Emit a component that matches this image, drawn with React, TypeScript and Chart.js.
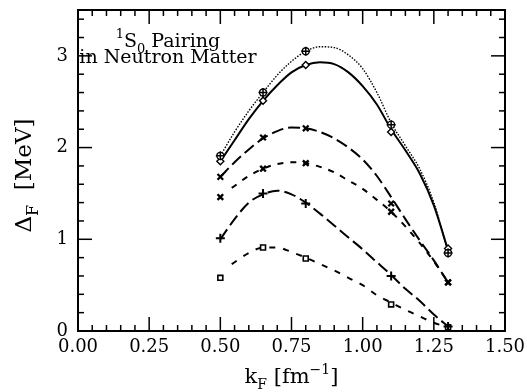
import React, { useEffect, useRef } from "react";
import { Chart, registerables } from "chart.js";
Chart.register(...registerables);

// Marker positions (k_F in fm^-1) and gap values (MeV)
const markerK = [0.5, 0.65, 0.8, 1.1, 1.3];
const s1Marks = [1.91, 2.6, 3.05, 2.25, 0.85];
const s2Marks = [1.85, 2.51, 2.9, 2.17, 0.9];
const s3Marks = [1.68, 2.11, 2.21, 1.39, 0.53];
const s4Marks = [1.46, 1.77, 1.83, 1.3, 0.53];
const s5Marks = [1.01, 1.5, 1.39, 0.6, 0.05];
const s6Marks = [0.58, 0.91, 0.79, 0.29, 0.04];

// Curve samples
const curveK = [0.5, 0.55, 0.6, 0.65, 0.7, 0.75, 0.8, 0.85, 0.9, 0.95, 1.0, 1.05, 1.1, 1.15, 1.2, 1.25, 1.3];
const curveKLate = [0.54, 0.6, 0.65, 0.7, 0.75, 0.8, 0.85, 0.9, 0.95, 1.0, 1.05, 1.1, 1.15, 1.2, 1.25, 1.3];
const s1Curve = [1.91, 2.17, 2.4, 2.6, 2.79, 2.94, 3.05, 3.1, 3.09, 3.01, 2.86, 2.6, 2.27, 2.02, 1.77, 1.4, 0.86];
const s2Curve = [1.85, 2.08, 2.31, 2.51, 2.68, 2.82, 2.9, 2.93, 2.91, 2.82, 2.67, 2.47, 2.2, 1.97, 1.72, 1.37, 0.88];
const s3Curve = [1.68, 1.84, 1.98, 2.1, 2.18, 2.22, 2.21, 2.17, 2.1, 2.0, 1.87, 1.69, 1.46, 1.22, 0.99, 0.77, 0.53];
const s4Curve = [1.56, 1.69, 1.77, 1.82, 1.84, 1.83, 1.79, 1.73, 1.64, 1.55, 1.43, 1.3, 1.14, 0.96, 0.76, 0.53];
const s5Curve = [1.0, 1.22, 1.4, 1.49, 1.53, 1.49, 1.4, 1.28, 1.15, 1.02, 0.89, 0.75, 0.61, 0.46, 0.33, 0.18, 0.05];
const s6Curve = [0.73, 0.85, 0.91, 0.91, 0.86, 0.8, 0.73, 0.66, 0.58, 0.5, 0.39, 0.31, 0.23, 0.16, 0.09, 0.04];

const xTickLabels = ["0.00", "0.25", "0.50", "0.75", "1.00", "1.25", "1.50"];
const yTickLabels = ["0", "1", "2", "3"];

const FONT = "'DejaVu Serif', serif";

type Part = { t: string; sub?: boolean; sup?: boolean };

function drawRich(ctx: CanvasRenderingContext2D, parts: Part[], cx: number, baseline: number, size: number) {
  const widths = parts.map((p) => {
    ctx.font = `${p.sub || p.sup ? Math.round(size * 0.68) : size}px ${FONT}`;
    return ctx.measureText(p.t).width;
  });
  const total = widths.reduce((a, b) => a + b, 0);
  let x = cx - total / 2;
  ctx.textAlign = "left";
  ctx.textBaseline = "alphabetic";
  parts.forEach((p, i) => {
    ctx.font = `${p.sub || p.sup ? Math.round(size * 0.68) : size}px ${FONT}`;
    const dy = p.sub ? size * 0.3 : p.sup ? -size * 0.45 : 0;
    ctx.fillText(p.t, x, baseline + dy);
    x += widths[i];
  });
}

const decorPlugin = {
  id: "decor",
  afterDraw(chart: any) {
    const { ctx, chartArea: a, scales } = chart;
    const xs = scales.x;
    const ys = scales.y;
    ctx.save();
    ctx.strokeStyle = "#000";
    ctx.fillStyle = "#000";
    ctx.lineWidth = 2;
    ctx.strokeRect(a.left, a.top, a.right - a.left, a.bottom - a.top);
    ctx.lineWidth = 1.5;
    const seg = (x1: number, y1: number, x2: number, y2: number) => {
      ctx.beginPath();
      ctx.moveTo(x1, y1);
      ctx.lineTo(x2, y2);
      ctx.stroke();
    };
    for (let i = 0; i <= 30; i++) {
      const px = xs.getPixelForValue(i * 0.05);
      const len = i % 5 === 0 ? 14 : 6;
      seg(px, a.bottom, px, a.bottom - len);
      seg(px, a.top, px, a.top + len);
    }
    for (let i = 0; i <= 17; i++) {
      const py = ys.getPixelForValue(i * 0.2);
      const len = i % 5 === 0 ? 14 : 6;
      seg(a.left, py, a.left + len, py);
      seg(a.right, py, a.right - len, py);
    }
    // annotation
    const tx = a.left + 90;
    drawRich(ctx, [{ t: "1", sup: true }, { t: "S" }, { t: "0", sub: true }, { t: " Pairing" }], tx, a.top + 37, 19);
    drawRich(ctx, [{ t: "in Neutron Matter" }], tx, a.top + 53, 19);
    // x title
    drawRich(ctx, [{ t: "k" }, { t: "F", sub: true }, { t: " [fm" }, { t: "\u22121", sup: true }, { t: "]" }], (a.left + a.right) / 2, 383, 21);
    // y title
    ctx.save();
    ctx.translate(31, (a.top + a.bottom) / 2 + 5);
    ctx.rotate(-Math.PI / 2);
    drawRich(ctx, [{ t: "\u0394" }, { t: "F", sub: true }, { t: "  [MeV]" }], 0, 0, 23);
    ctx.restore();
    ctx.restore();
  },
};

function pts(xs: number[], ys: number[]) {
  return xs.map((x, i) => ({ x, y: ys[i] }));
}

export default function App() {
  const ref = useRef<HTMLCanvasElement>(null);
  useEffect(() => {
    if (!ref.current) return;
    const lineDs = (data: number[], xs: number[], dash: number[], width: number) => ({
      type: "line" as const,
      data: pts(xs, data),
      borderColor: "#000",
      borderWidth: width,
      borderDash: dash,
      pointRadius: 0,
      fill: false,
      cubicInterpolationMode: "monotone" as const,
      order: 2,
    });
    const markDs = (data: number[], style: string, r: number, bw: number, bg = "rgba(0,0,0,0)") => ({
      type: "scatter" as const,
      data: pts(markerK, data),
      pointStyle: style,
      pointRadius: r,
      pointBorderWidth: bw,
      pointBorderColor: "#000",
      pointBackgroundColor: bg,
      borderColor: "#000",
      backgroundColor: bg,
      showLine: false,
      order: 1,
    });
    const chart = new Chart(ref.current, {
      type: "scatter",
      data: {
        datasets: [
          lineDs(s1Curve, curveK, [1.5, 1.5], 1.4),
          lineDs(s2Curve, curveK, [], 2),
          lineDs(s3Curve, curveK, [12, 5], 2),
          lineDs(s4Curve, curveKLate, [6, 7], 2),
          lineDs(s5Curve, curveK, [12, 5], 2),
          lineDs(s6Curve, curveKLate, [6, 8], 2),
          markDs(s1Marks, "cross", 4.5, 1.5),
          markDs(s1Marks, "circle", 3.5, 1.4, "#fff"),
          markDs(s2Marks, "rectRot", 3.5, 1.4, "#fff"),
          markDs(s3Marks, "crossRot", 4, 2.2),
          markDs(s4Marks, "crossRot", 4, 2.4),
          markDs(s5Marks, "cross", 4.5, 2),
          markDs(s6Marks, "rect", 3.5, 1.6, "#fff"),
        ] as any,
      },
      options: {
        animation: false,
        responsive: false,
        events: [],
        layout: { padding: { left: 0, top: 10, right: 22, bottom: 0 } },
        plugins: { legend: { display: false }, tooltip: { enabled: false } },
        scales: {
          x: {
            type: "linear",
            min: 0,
            max: 1.5,
            grid: { display: false, drawTicks: false },
            border: { display: false },
            ticks: {
              stepSize: 0.25,
              padding: 6,
              color: "#000",
              font: { family: FONT, size: 18 },
              autoSkip: false,
              maxRotation: 0,
              callback: (_v: any, i: number) => xTickLabels[i],
            },
            afterFit: (s: any) => {
              s.height = 61;
              s.paddingLeft = 0;
              s.paddingRight = 0;
            },
          },
          y: {
            type: "linear",
            min: 0,
            max: 3.5,
            grid: { display: false, drawTicks: false },
            border: { display: false },
            ticks: {
              stepSize: 1,
              includeBounds: false,
              padding: 10,
              color: "#000",
              font: { family: FONT, size: 18 },
              autoSkip: false,
              callback: (_v: any, i: number) => yTickLabels[i],
            },
            afterFit: (s: any) => {
              s.width = 78;
              s.paddingTop = 0;
              s.paddingBottom = 0;
            },
          },
        },
      },
      plugins: [decorPlugin],
    } as any);
    return () => chart.destroy();
  }, []);
  return (
    <div style={{ position: "absolute", left: 0, top: 0, width: 527, height: 392, background: "#fff" }}>
      <canvas ref={ref} width={527} height={392} style={{ display: "block" }} />
    </div>
  );
}
